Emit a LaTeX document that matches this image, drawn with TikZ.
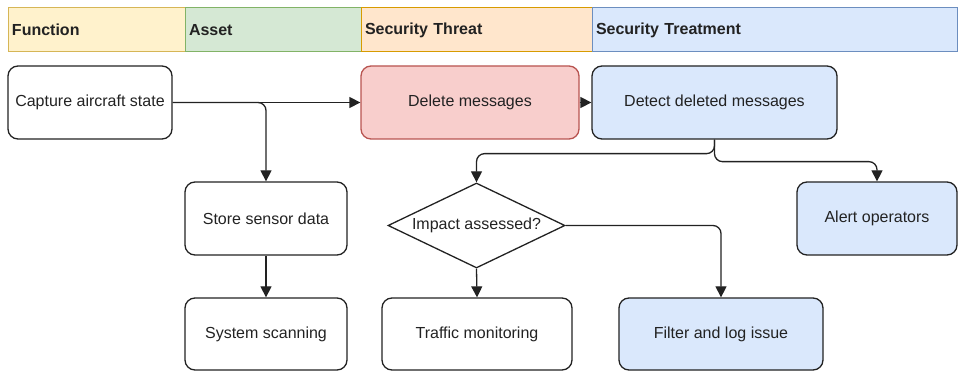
\documentclass[tikz,border=0pt]{standalone}
\usepackage{fontspec}
\setmainfont{Liberation Sans}
\usetikzlibrary{arrows.meta,shapes.geometric}

\definecolor{yelF}{HTML}{FFF2CC}\definecolor{yelS}{HTML}{D6B656}
\definecolor{grnF}{HTML}{D5E8D4}\definecolor{grnS}{HTML}{82B366}
\definecolor{orgF}{HTML}{FFE6CC}\definecolor{orgS}{HTML}{D79B00}
\definecolor{bluF}{HTML}{DAE8FC}\definecolor{bluS}{HTML}{6C8EBF}
\definecolor{redF}{HTML}{F8CECC}\definecolor{redS}{HTML}{B85450}
\definecolor{ink}{HTML}{222222}

\tikzset{
  lane/.style={draw, line width=1pt, rectangle, inner xsep=4pt, inner ysep=0pt,
    minimum height=44pt, align=left, font=\fontsize{16}{19}\selectfont\bfseries, text=ink},
  card/.style={draw=ink, line width=1.3pt, rectangle, rounded corners=10pt,
    inner sep=0pt, minimum height=73pt, font=\fontsize{16}{19}\selectfont, text=ink},
  decision/.style={draw=ink, line width=1.3pt, diamond, shape aspect=2.08, inner sep=0pt,
    minimum width=177pt, minimum height=85pt, font=\fontsize{16}{19}\selectfont, text=ink},
  tip/.tip={Triangle[length=11pt,width=11pt]},
  arr/.style={draw=ink, line width=1.3pt, rounded corners=8pt, -tip},
}

\begin{document}
\begin{tikzpicture}[x=1pt,y=-1pt]
  \useasboundingbox (0,0) rectangle (958,371);

  % swimlane headers
  \node[lane, fill=yelF, draw=yelS, text width=169pt] (hfun) at (96.5,30) {Function};
  \node[lane, fill=grnF, draw=grnS, text width=168pt] (hasset) at (273,30) {Asset};
  \node[lane, fill=orgF, draw=orgS, text width=223pt] (hthreat) at (476.5,30) {Security Threat};
  \node[lane, fill=bluF, draw=bluS, text width=357pt] (htreat) at (774.5,30) {Security Treatment};

  % process boxes
  \node[card, minimum width=164pt] (capture) at (90,102.5) {Capture aircraft state};
  \node[card, fill=redF, draw=redS, minimum width=218pt] (delete) at (470,102.5) {Delete messages};
  \node[card, fill=bluF, minimum width=245pt] (detect) at (714.5,102.5) {Detect deleted messages};
  \node[card, minimum width=162pt] (store) at (266,218.5) {Store sensor data};
  \node[card, minimum width=162pt, minimum height=72pt] (scan) at (266,334) {System scanning};
  \node[decision] (impact) at (476.5,225.5) {Impact assessed?};
  \node[card, fill=bluF, minimum width=160pt] (alert) at (877,218.5) {Alert operators};
  \node[card, minimum width=190pt, minimum height=72pt] (traffic) at (477,334) {Traffic monitoring};
  \node[card, fill=bluF, minimum width=204pt, minimum height=72pt] (filter) at (721,334) {Filter and log issue};

  % connectors
  \draw[arr] (capture.east) -- (delete.west);
  \draw[arr] (capture.east) -| (store.north);
  \draw[arr] (store.south) -- (scan.north);
  \draw[arr] (delete.east) -- (detect.west);
  \draw[arr] (detect.south) -- ++(0,14) -| (impact.north);
  \draw[arr] (detect.south) -- ++(0,22) -| (alert.north);
  \draw[arr] (impact.south) -- (traffic.north);
  \draw[arr] (impact.east) -| (filter.north);
\end{tikzpicture}
\end{document}
